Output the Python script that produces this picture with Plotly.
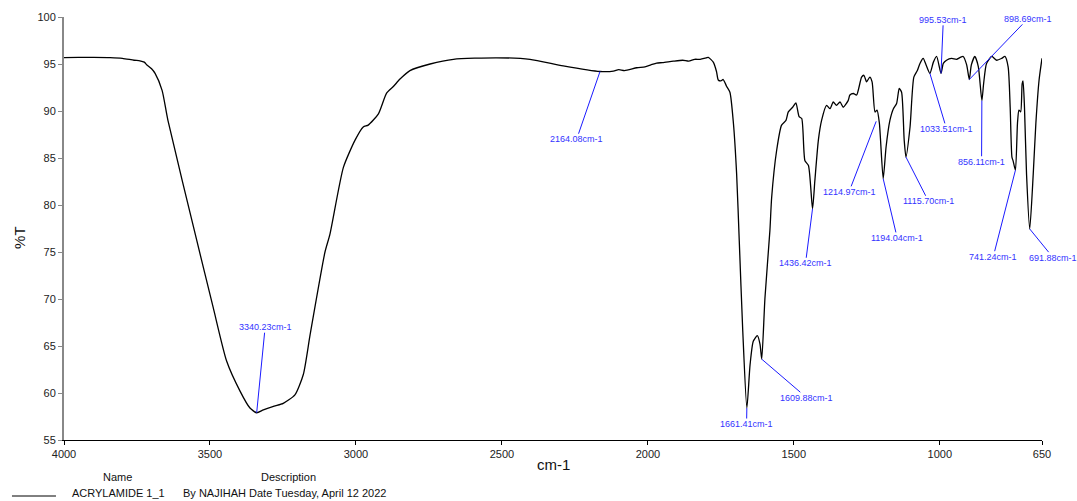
import plotly.graph_objects as go

# ---- spectrum data (wavenumber cm-1, %T) ----
wavenumber = [4000, 3950, 3900, 3842, 3800, 3760, 3740, 3725, 3716, 3700, 3688, 3664, 3644,
              3545, 3489, 3443, 3397, 3363, 3340, 3317, 3280, 3249, 3209, 3180, 3157, 3106,
              3089, 3043, 3003, 2975, 2958, 2923, 2895, 2872, 2849, 2815, 2746, 2666, 2518,
              2404, 2290, 2164, 2118, 2100, 2080, 2038, 2010, 1990, 1970, 1950, 1913, 1880,
              1860, 1840, 1821, 1800, 1793, 1776, 1765, 1759, 1750, 1742, 1730, 1719, 1707,
              1696, 1687, 1675, 1661, 1650, 1639, 1625, 1616, 1610, 1599, 1582, 1576, 1559,
              1542, 1527, 1519, 1504, 1493, 1482, 1473, 1462, 1450, 1436, 1428, 1416, 1405,
              1388, 1376, 1365, 1354, 1342, 1331, 1314, 1308, 1296, 1285, 1268, 1260, 1251,
              1240, 1232, 1222, 1215, 1207, 1194, 1184, 1171, 1159, 1148, 1139, 1131, 1122,
              1116, 1102, 1089, 1077, 1068, 1057, 1047, 1034, 1022, 1011, 996, 988, 977, 960,
              943, 930, 920, 908, 899, 892, 880, 868, 856, 850, 840, 822, 805, 788, 777, 766,
              759, 753, 749, 741, 734, 729, 723, 718, 715, 710, 703, 692, 680, 671, 660, 650]
transmittance = [95.68, 95.70, 95.70, 95.68, 95.6, 95.4, 95.34, 95.2, 94.9, 94.5, 94.0, 92.2, 89.0,
                 76.2, 69.1, 63.4, 60.2, 58.4, 57.9, 58.2, 58.6, 58.9, 59.8, 62.0, 66.2, 75.0,
                 76.9, 84.0, 86.9, 88.3, 88.5, 89.7, 91.9, 92.6, 93.4, 94.3, 95.0, 95.5, 95.66,
                 95.5, 94.8, 94.2, 94.24, 94.4, 94.3, 94.6, 94.7, 94.9, 95.1, 95.15, 95.3, 95.4,
                 95.3, 95.5, 95.5, 95.65, 95.7, 95.2, 94.2, 93.3, 93.2, 93.35, 92.6, 92.0, 88.7,
                 83.3, 76.2, 66.6, 58.4, 63.0, 65.5, 66.1, 65.2, 63.6, 70.1, 77.3, 80.8, 85.8,
                 88.5, 89.0, 89.9, 90.4, 90.85, 89.4, 89.2, 84.7, 84.2, 79.6, 82.6, 86.9, 89.0,
                 90.6, 90.25, 90.96, 90.6, 90.96, 90.4, 91.1, 91.7, 91.86, 91.7, 93.6, 93.8, 93.1,
                 93.6, 93.1, 89.9, 90.1, 88.7, 82.8, 86.2, 89.0, 90.25, 90.8, 92.4, 92.0, 86.9,
                 85.1, 88.3, 93.6, 94.3, 95.06, 95.6, 94.9, 94.0, 95.2, 95.8, 94.0, 95.06, 95.4, 95.6,
                 95.5, 95.7, 95.8, 94.9, 93.35, 94.9, 95.8, 94.7, 91.1, 92.9, 95.06, 95.8, 95.4, 95.6, 95.8, 94.7,
                 90.4, 85.1, 84.7, 83.7, 88.7, 90.1, 89.9, 92.9, 93.2, 90.4, 83.3, 77.45, 83.3, 88.7, 93.3, 95.6]

# ---- peak labels ----
peak_labels = ["3340.23cm-1", "2164.08cm-1", "1661.41cm-1", "1609.88cm-1", "1436.42cm-1",
               "1214.97cm-1", "1194.04cm-1", "1115.70cm-1", "1033.51cm-1", "995.53cm-1",
               "898.69cm-1", "856.11cm-1", "741.24cm-1", "691.88cm-1"]
peak_wn = [3340, 2164, 1661, 1610, 1436, 1218, 1194, 1116, 1034, 996, 899, 856, 741, 692]
peak_t = [57.9, 94.2, 58.4, 63.6, 79.6, 88.9, 82.8, 85.1, 94.0, 94.0, 93.35, 91.1, 83.7, 77.45]
label_wn = [3311, 2244, 1662, 1456, 1460, 1311, 1146, 1039, 977, 988, 699, 857, 817, 612]
label_t = [67.0, 87.0, 56.7, 59.5, 73.8, 81.4, 76.5, 80.4, 88.1, 99.7, 99.8, 84.6, 74.5, 74.4]

x_tickvals = [4000, 3500, 3000, 2500, 2000, 1500, 1000, 650]
y_tickvals = [55, 60, 65, 70, 75, 80, 85, 90, 95, 100]

FONT = "Liberation Sans, Arial, sans-serif"

fig = go.Figure()
fig.add_trace(go.Scatter(x=wavenumber, y=transmittance, mode="lines",
                         line=dict(color="black", width=1.3, shape="spline", smoothing=0.6),
                         showlegend=False, hoverinfo="skip"))

annotations = []
for txt, px, py, lx, ly in zip(peak_labels, peak_wn, peak_t, label_wn, label_t):
    annotations.append(dict(
        x=px, y=py, xref="x", yref="y",
        ax=lx, ay=ly, axref="x", ayref="y",
        text=txt, showarrow=True, arrowhead=0, arrowwidth=1, arrowcolor="#1a1aff",
        standoff=0, startstandoff=0, borderpad=0,
        font=dict(family=FONT, size=9, color="#3333ff")))

# axis titles
annotations.append(dict(text="cm-1", x=0.5, y=-0.059, xref="paper", yref="paper",
                        showarrow=False, xanchor="center", yanchor="middle",
                        font=dict(family=FONT, size=15, color="#111")))
annotations.append(dict(text="%T", x=-0.045, y=0.48, xref="paper", yref="paper",
                        showarrow=False, xanchor="center", yanchor="middle", textangle=-90,
                        font=dict(family=FONT, size=15, color="#111")))
# legend block
annotations.append(dict(text="Name", x=0.0552, y=-0.0875, xref="paper", yref="paper",
                        showarrow=False, xanchor="center", yanchor="middle",
                        font=dict(family=FONT, size=11, color="#111")))
annotations.append(dict(text="Description", x=0.230, y=-0.0875, xref="paper", yref="paper",
                        showarrow=False, xanchor="center", yanchor="middle",
                        font=dict(family=FONT, size=11, color="#111")))
annotations.append(dict(text="ACRYLAMIDE 1_1", x=0.0557, y=-0.1253, xref="paper", yref="paper",
                        showarrow=False, xanchor="center", yanchor="middle",
                        font=dict(family=FONT, size=11, color="#111")))
annotations.append(dict(text="By NAJIHAH Date Tuesday, April 12 2022", x=0.1196, y=-0.1253,
                        xref="paper", yref="paper", showarrow=False, xanchor="left",
                        yanchor="middle", font=dict(family=FONT, size=11, color="#111")))

fig.add_shape(type="line", xref="paper", yref="paper", x0=-0.0532, x1=-0.0082,
              y0=-0.1324, y1=-0.1324, line=dict(color="black", width=1))

fig.update_layout(
    width=1077, height=501,
    margin=dict(l=64, r=35, t=17, b=61),
    paper_bgcolor="white", plot_bgcolor="white",
    annotations=annotations,
    font=dict(family=FONT),
    xaxis=dict(range=[4000, 650], tickvals=x_tickvals, ticktext=[str(v) for v in x_tickvals],
               showgrid=False, zeroline=False, showline=True, linecolor="black", linewidth=1,
               ticks="outside", ticklen=4, tickcolor="black", mirror=False,
               tickfont=dict(family=FONT, size=11, color="#222")),
    yaxis=dict(range=[55, 100], tickvals=y_tickvals, showgrid=False, zeroline=False,
               showline=True, linecolor="#888888", linewidth=2,
               ticks="outside", ticklen=4, tickcolor="#888888",
               tickfont=dict(family=FONT, size=11, color="#222")),
)

fig.write_html("out.html")
